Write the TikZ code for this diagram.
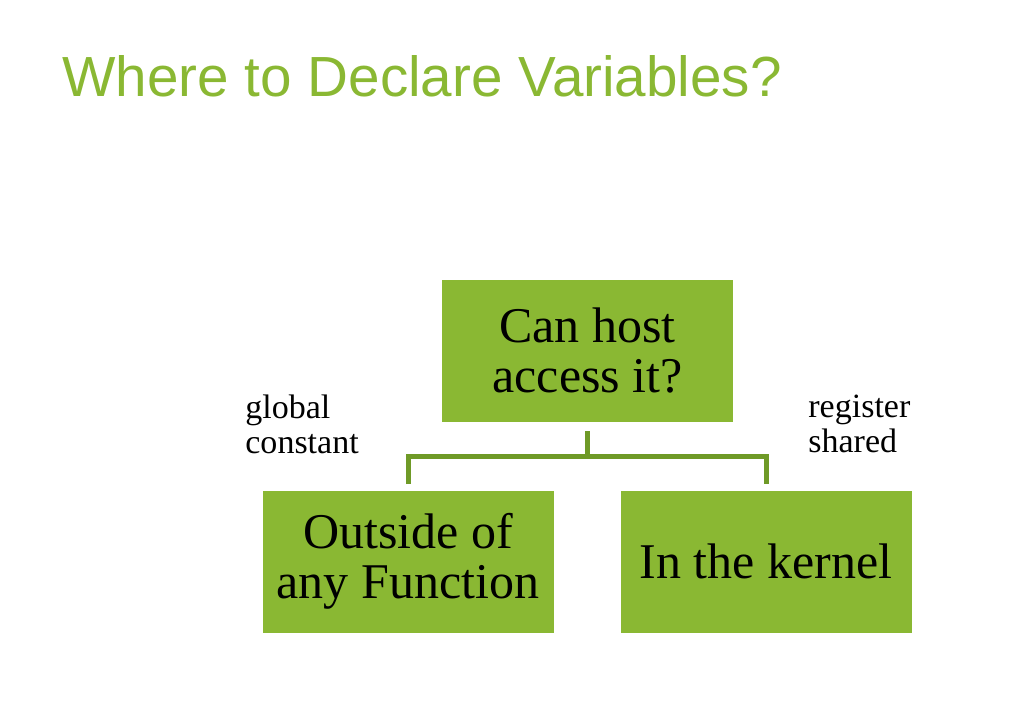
\documentclass[tikz,border=0pt]{standalone}
\usepackage{fontspec}
\setmainfont{Liberation Serif}
\newfontfamily\titlefont{Liberation Sans}
\usepackage{xcolor}
\definecolor{boxgreen}{HTML}{8AB833}
\definecolor{linkgreen}{HTML}{6F9A27}
\tikzset{decision/.style={fill=boxgreen,draw=none,minimum width=145.5pt,
   minimum height=71pt,align=center,font=\fontsize{25}{25}\selectfont},
 link/.style={draw=linkgreen,line width=2.5pt},
 tag/.style={anchor=north west,align=left,inner sep=0pt,
   font=\fontsize{17}{17.5}\selectfont},
 }

\begin{document}
\begin{tikzpicture}[x=0.5pt,y=-0.5pt]
        \useasboundingbox (0,0) rectangle (1016,722);
        \node[anchor=base west,inner sep=0pt,text=boxgreen,
            font=\titlefont\fontsize{28.3}{30}\selectfont] (title) at (62,97)
            {Where to Declare Variables?};
        \node[decision] (host) at (587.5,351) {Can host\\access it?};
        \node[decision] (outside) at (408,561.5) {Outside of\\any Function};
        \node[decision] (kernel) at (766,561.5) {In the kernel};
        \coordinate (fork) at (587.5,456.5);
        \draw[link] ([yshift=-4.5pt]host.south) -- (fork);
        \draw[link] ([yshift=3pt]outside.north) |- (fork)
            -| ([yshift=3pt]kernel.north);
        \node[tag] (globals) at (245,395) {global\\constant};
        \node[tag] (locals) at (808,395) {register\\shared};
    \end{tikzpicture}
\end{document}
